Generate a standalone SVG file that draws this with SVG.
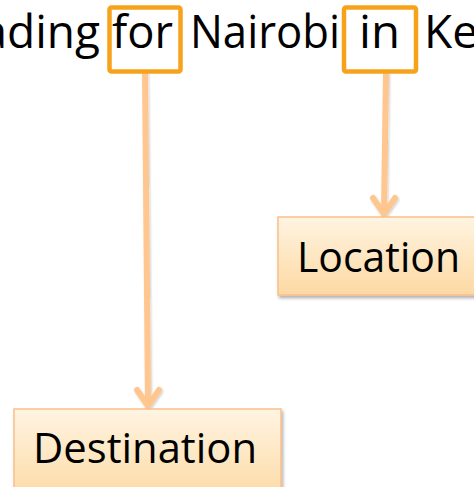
<svg xmlns="http://www.w3.org/2000/svg" width="474" height="487" viewBox="0 0 474 487">
<style>
.word{font-family:"Open Sans","Liberation Sans",sans-serif;font-size:46px;fill:#000}
.lbl{font-family:"Open Sans","Liberation Sans",sans-serif;font-size:42px;fill:#000}
.hl{fill:none;stroke:#F7A21B;stroke-width:4.5}
.box{fill:url(#g);stroke:#F9BE8A;stroke-width:1.5;filter:url(#sh)}
.conn{fill:none;stroke:#FFC78F;stroke-width:6;stroke-linecap:butt;filter:url(#sh2)}
.head{fill:none;stroke:#FFC78F;stroke-width:6;stroke-linecap:round;stroke-linejoin:miter}
</style>
<defs>
<linearGradient id="g" x1="0" y1="0" x2="0" y2="1">
<stop offset="0" stop-color="#FFF4E2"/>
<stop offset="1" stop-color="#FDD9A2"/>
</linearGradient>
<filter id="sh" x="-10%" y="-10%" width="130%" height="140%">
<feDropShadow dx="1.5" dy="2.5" stdDeviation="1.5" flood-color="#000" flood-opacity="0.3"/>
</filter>
<filter id="sh2" x="-50%" y="-5%" width="200%" height="110%">
<feDropShadow dx="1" dy="1.5" stdDeviation="1.2" flood-color="#000" flood-opacity="0.2"/>
</filter>
</defs>
<g id="sentence">
<text class="word" x="100" y="48" text-anchor="end">ading</text>
<text class="word" x="112" y="48" textLength="61" lengthAdjust="spacingAndGlyphs">for</text>
<text class="word" x="190" y="48" textLength="150" lengthAdjust="spacingAndGlyphs">Nairobi</text>
<text class="word" x="359" y="48" textLength="41" lengthAdjust="spacingAndGlyphs">in</text>
<text class="word" x="424" y="48">Ke</text>
</g>
<g id="connectors">
<g filter="url(#sh2)">
<line x1="145" y1="72" x2="148" y2="405" stroke="#FFC78F" stroke-width="6"/>
<polyline class="head" points="137,390 148,406 159,390"/>
<line x1="386" y1="72" x2="384" y2="213" stroke="#FFC78F" stroke-width="6"/>
<polyline class="head" points="373,198 384,214 395,198"/>
</g>
</g>
<g id="for-box"><rect class="hl" x="109.5" y="7.5" width="71" height="64" rx="2"/></g>
<g id="in-box"><rect class="hl" x="344" y="7.5" width="72" height="64" rx="2"/></g>
<g id="location">
<rect class="box" x="278" y="217" width="220" height="78"/>
<text class="lbl" x="297" y="272" textLength="163" lengthAdjust="spacingAndGlyphs">Location</text>
</g>
<g id="destination">
<rect class="box" x="14" y="409" width="267" height="95"/>
<text class="lbl" x="33" y="463" textLength="224" lengthAdjust="spacingAndGlyphs">Destination</text>
</g>
</svg>
